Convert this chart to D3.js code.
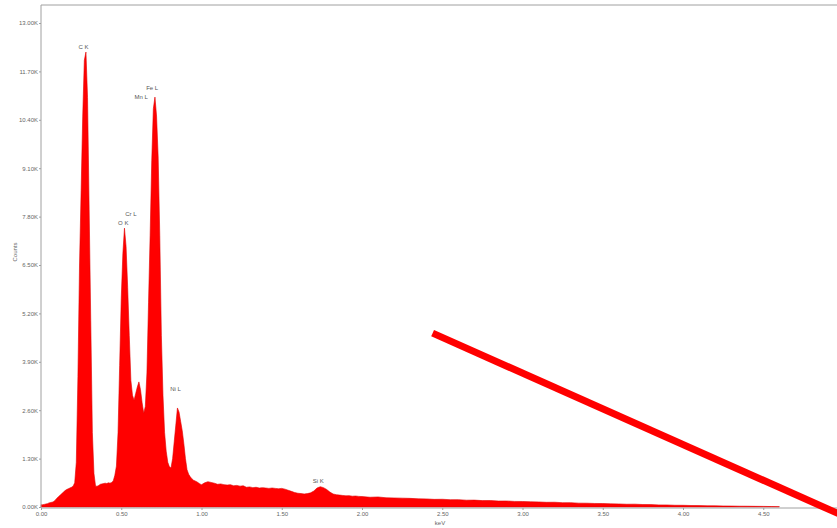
<!DOCTYPE html>
<html>
<head>
<meta charset="utf-8">
<script src="https://cdn.jsdelivr.net/npm/d3@7"></script>
<style>
  html, body { margin: 0; padding: 0; background: #ffffff; }
  svg { display: block; font-family: "Liberation Sans", Arial, sans-serif; }
</style>
</head>
<body>
<svg id="chart" width="837" height="528"></svg>
<script>
// EDS spectrum: counts per channel. Channel width changes by range.
const lowStart = 0.00, lowStep = 0.01;   // 0.00 - 0.99 keV
const lowCounts = [
  60, 60, 70, 80, 90, 110, 120, 130, 150, 190,
  240, 280, 320, 360, 400, 440, 470, 490, 510, 530,
  560, 650, 1200, 3500, 6500, 8500, 10500, 12000, 12220, 11000,
  8000, 5000, 2000, 900, 560, 560, 580, 610, 620, 630,
  640, 630, 650, 640, 660, 700, 850, 1100, 2000, 3800,
  5600, 6800, 7490, 7000, 5900, 4600, 3400, 3000, 2870, 3050,
  3220, 3360, 3150, 2800, 2520, 2700, 3600, 5500, 7300, 9300,
  10700, 11010, 10500, 9400, 7300, 4600, 3000, 2000, 1500, 1200,
  1080, 1050, 1300, 1750, 2200, 2660, 2550, 2300, 2050, 1700,
  1300, 1000, 880, 810, 760, 720, 700, 680, 650, 620
];
const midStart = 1.00, midStep = 0.02;   // 1.00 - 1.98 keV
const midCounts = [
  600, 650, 680, 660, 640, 610, 620, 600, 590, 600,
  570, 580, 560, 570, 530, 540, 520, 530, 510, 520,
  510, 500, 510, 500, 490, 500, 480, 450, 420, 390,
  370, 360, 350, 360, 380, 430, 510, 545, 520, 470,
  400, 350, 330, 320, 310, 300, 305, 290, 295, 285
];
const tailStart = 2.00, tailStep = 0.05; // 2.00 - 4.60 keV
const tailCounts = [
  280, 262, 270, 248, 243, 238, 232, 220, 218, 205,
  208, 196, 198, 183, 185, 172, 174, 160, 162, 150,
  148, 140, 136, 126, 128, 115, 117, 104, 102, 95,
  93, 84, 82, 74, 76, 66, 64, 56, 55, 47,
  46, 40, 38, 33, 32, 28, 26, 22, 21, 18,
  16, 12, 10
];

// Identified lines: name, line energy (keV), label height (counts)
const peakNames  = ["C K", "O K", "Cr L", "Mn L", "Fe L", "Ni L", "Si K"];
const peakEnergy = [0.277, 0.525, 0.573, 0.637, 0.705, 0.851, 1.740];
const peakLabelY = [12350, 7640, 7870, 11020, 11260, 3170, 700];

// Axis ticks
const xTicks = [0, 0.5, 1.0, 1.5, 2.0, 2.5, 3.0, 3.5, 4.0, 4.5];
const yTicks = [0, 1300, 2600, 3900, 5200, 6500, 7800, 9100, 10400, 11700, 13000];

// Red pointer line drawn across the plot (keV, counts)
const pointerKeV = [2.44, 5.0];
const pointerCounts = [4670, -240];

const spectrum = []
  .concat(lowCounts.map((c, i) => ({ e: lowStart + i * lowStep, c })))
  .concat(midCounts.map((c, i) => ({ e: midStart + i * midStep, c })))
  .concat(tailCounts.map((c, i) => ({ e: tailStart + i * tailStep, c })));

const svg = d3.select("#chart");
const W = 837;
const plotLeft = 41, plotTop = 5, baseY = 507;

const x = d3.scaleLinear().domain([0, 4.5]).range([plotLeft, plotLeft + 4.5 * 160.5]);
const y = d3.scaleLinear().domain([0, 13000]).range([baseY, 23]);

// Plot frame top border
svg.append("line")
  .attr("x1", plotLeft).attr("x2", W + 10).attr("y1", plotTop).attr("y2", plotTop)
  .attr("stroke", "#a0a0a0").attr("stroke-width", 1);

// Spectrum fill
const area = d3.area()
  .x(d => x(d.e))
  .y0(y(0))
  .y1(d => y(d.c))
  .curve(d3.curveLinear);

svg.append("path")
  .datum(spectrum)
  .attr("d", area)
  .attr("fill", "#ff0000")
  .attr("stroke", "#e00000")
  .attr("stroke-width", 0.6);

// Axes
const xAxis = d3.axisBottom(x)
  .tickValues(xTicks)
  .tickFormat(d3.format(".2f"))
  .tickSize(2)
  .tickSizeOuter(0);
const gx = svg.append("g")
  .attr("transform", `translate(0,${baseY + 1})`)
  .call(xAxis);
gx.select(".domain").remove();
gx.append("line")
  .attr("x1", plotLeft).attr("x2", W + 10).attr("y1", 0).attr("y2", 0)
  .attr("stroke", "#a0a0a0");
gx.selectAll(".tick line").attr("stroke", "#a0a0a0");
gx.selectAll(".tick text")
  .attr("font-size", 6).attr("fill", "#666").attr("y", 4);

const yAxis = d3.axisLeft(y)
  .tickValues(yTicks)
  .tickFormat(d => (d / 1000).toFixed(2) + "K")
  .tickSize(2)
  .tickSizeOuter(0);
const gy = svg.append("g")
  .attr("transform", `translate(${plotLeft},0)`)
  .call(yAxis);
gy.select(".domain").remove();
gy.append("line")
  .attr("x1", 0).attr("x2", 0).attr("y1", plotTop).attr("y2", baseY + 1)
  .attr("stroke", "#a0a0a0");
gy.selectAll(".tick line").attr("stroke", "#a0a0a0");
gy.selectAll(".tick text")
  .attr("font-size", 6).attr("fill", "#666").attr("x", -3);

// Axis titles
svg.append("text")
  .attr("x", 440).attr("y", 525)
  .attr("text-anchor", "middle")
  .attr("font-size", 6).attr("fill", "#666")
  .text("keV");
svg.append("text")
  .attr("transform", "translate(17,252) rotate(-90)")
  .attr("text-anchor", "middle")
  .attr("font-size", 6).attr("fill", "#666")
  .text("Counts");

// Peak labels
svg.append("g").selectAll("text")
  .data(peakNames)
  .join("text")
  .attr("x", (d, i) => x(peakEnergy[i]) - 2)
  .attr("y", (d, i) => y(peakLabelY[i]))
  .attr("dy", "0.35em")
  .attr("text-anchor", "middle")
  .attr("font-size", 6).attr("fill", "#555")
  .text(d => d);

// Red pointer line
svg.append("line")
  .attr("x1", x(pointerKeV[0])).attr("y1", y(pointerCounts[0]))
  .attr("x2", x(pointerKeV[1])).attr("y2", y(pointerCounts[1]))
  .attr("stroke", "#ff0000")
  .attr("stroke-width", 7);
</script>
</body>
</html>
